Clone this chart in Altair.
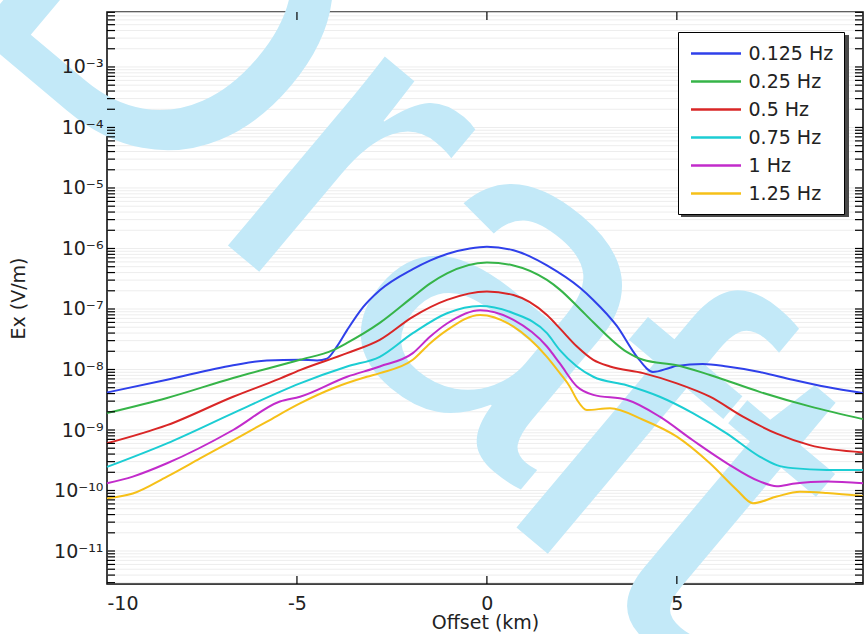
import altair as alt
import pandas as pd

# ---- data (x in km, y as log10 of Ex in V/m) ----
series_names = ["0.125 Hz", "0.25 Hz", "0.5 Hz", "0.75 Hz", "1 Hz", "1.25 Hz"]
series_colors = ["#2f40ea", "#36b448", "#d92626", "#1ccdd3", "#c22bcb", "#f6c018"]

x_0125 = [-10, -8.42, -6.68, -5.79, -4.92, -4.47, -4.21, -3.96, -3.68, -3.26, -2.82, -1.95, -1.5, -1.05, -0.45, 0, 0.70, 1.13, 1.58, 2.45, 2.80, 3.42, 3.95, 4.37, 4.82, 5.0, 5.68, 6.32, 7.18, 8.05, 8.95, 9.9]
y_0125 = [-8.38, -8.17, -7.93, -7.85, -7.84, -7.85, -7.82, -7.63, -7.35, -6.97, -6.69, -6.34, -6.20, -6.09, -6.00, -5.97, -6.03, -6.13, -6.28, -6.65, -6.85, -7.28, -7.79, -8.04, -7.97, -7.94, -7.91, -7.95, -8.04, -8.17, -8.29, -8.39]

x_025 = [-10, -8.42, -6.68, -4.92, -4.05, -3.68, -2.82, -1.95, -1.5, -1.05, 0, 0.70, 1.58, 1.92, 2.45, 2.80, 3.68, 4.11, 5.0, 5.87, 7.18, 8.50, 9.9]
y_025 = [-8.72, -8.47, -8.14, -7.84, -7.68, -7.56, -7.23, -6.80, -6.58, -6.41, -6.23, -6.28, -6.52, -6.68, -7.00, -7.22, -7.71, -7.84, -7.93, -8.09, -8.37, -8.61, -8.82]

x_05 = [-10, -8.42, -6.68, -5.45, -4.92, -3.68, -2.82, -1.95, -1.05, 0, 0.70, 1.58, 1.92, 2.37, 2.80, 3.24, 4.11, 5.0, 5.87, 6.74, 7.63, 8.50, 9.9]
y_05 = [-9.22, -8.92, -8.45, -8.15, -8.01, -7.73, -7.51, -7.13, -6.85, -6.71, -6.77, -7.10, -7.32, -7.62, -7.84, -7.95, -8.06, -8.23, -8.45, -8.78, -9.06, -9.25, -9.37]

x_075 = [-10, -8.42, -6.68, -5.45, -4.92, -3.68, -2.82, -1.95, -1.05, -0.18, 0.70, 1.58, 1.92, 2.37, 2.80, 3.68, 4.55, 5.42, 6.32, 7.18, 7.63, 8.05, 8.95, 9.9]
y_075 = [-9.61, -9.22, -8.72, -8.37, -8.23, -7.95, -7.79, -7.40, -7.07, -6.95, -7.07, -7.40, -7.68, -7.95, -8.12, -8.26, -8.45, -8.72, -9.06, -9.44, -9.58, -9.63, -9.66, -9.66]

x_1 = [-10, -9.32, -8.42, -6.68, -5.45, -4.92, -3.68, -2.82, -1.95, -1.5, -1.05, -0.18, 0.70, 1.58, 1.92, 2.37, 2.80, 3.68, 4.55, 5.42, 6.32, 7.18, 7.63, 8.05, 8.95, 9.9]
y_1 = [-9.88, -9.77, -9.55, -9.00, -8.53, -8.45, -8.12, -7.95, -7.73, -7.46, -7.24, -7.02, -7.18, -7.62, -7.90, -8.28, -8.42, -8.50, -8.78, -9.17, -9.55, -9.85, -9.93, -9.89, -9.85, -9.88]

x_125 = [-10, -9.32, -8.42, -7.55, -6.68, -5.79, -4.92, -4.05, -3.16, -2.82, -1.95, -1.5, -1.05, -0.18, 0.70, 1.58, 1.92, 2.18, 2.37, 2.63, 3.24, 4.11, 5.0, 5.87, 6.58, 7.0, 7.63, 8.24, 8.95, 9.9]
y_125 = [-10.13, -10.05, -9.77, -9.47, -9.17, -8.86, -8.56, -8.31, -8.12, -8.06, -7.84, -7.57, -7.35, -7.10, -7.29, -7.79, -8.06, -8.28, -8.50, -8.67, -8.64, -8.83, -9.11, -9.55, -9.99, -10.21, -10.10, -10.02, -10.04, -10.09]

x_ticks = [-10, -5, 0, 5]
y_decades = [-12, -11, -10, -9, -8, -7, -6, -5, -4, -3]
y_minor_mult = [1, 2, 3, 4, 5, 6, 7, 8, 9]
x_domain = [-10, 9.9]
y_domain = [2.85e-12, 8.1e-3]
watermark_parts = ["Dra", "ft"]

# ---- build tables ----
rows = []
for name, xs_, ys_ in zip(series_names,
                          [x_0125, x_025, x_05, x_075, x_1, x_125],
                          [y_0125, y_025, y_05, y_075, y_1, y_125]):
    for xv, yv in zip(xs_, ys_):
        rows.append({"series": name, "offset": xv, "Ex": 10 ** yv})
df = pd.DataFrame(rows)

tick_vals = [m * 10 ** d for d in y_decades for m in y_minor_mult
             if y_domain[0] <= m * 10 ** d <= y_domain[1]]
major_exps = [d for d in y_decades if y_domain[0] <= 10 ** d <= y_domain[1]]
major_vals = [10 ** d for d in major_exps]
ytick_df = pd.DataFrame({"Ex": tick_vals})
xtick_df = pd.DataFrame({"offset": x_ticks[1:]})

W, H = 756, 572
FONT = "DejaVu Sans"
FS = 19

xs = alt.Scale(domain=x_domain, nice=False, zero=False)
ys = alt.Scale(type="log", domain=y_domain, nice=False)

SUP = {"0": "⁰", "1": "¹", "2": "²", "3": "³", "4": "⁴", "5": "⁵",
       "6": "⁶", "7": "⁷", "8": "⁸", "9": "⁹", "-": "⁻"}


def sup_label(d):
    return "10" + "".join(SUP[c] for c in str(d))


label_expr = ""
for d in major_exps:
    label_expr += f"round(log(datum.value)/LN10) == {d} ? '{sup_label(d)}' : "
label_expr += "''"

x_axis = alt.Axis(values=x_ticks, ticks=False, domain=False, grid=False,
                  labelExpr="datum.value < 0 ? '-' + abs(datum.value) : '' + datum.value",
                  labelFontSize=FS, labelFont=FONT, labelColor="#222",
                  labelPadding=10, title="Offset (km)", titleFont=FONT,
                  titleFontSize=FS, titleFontWeight="normal", titleColor="#222",
                  titlePadding=0, zindex=1)
y_axis = alt.Axis(values=major_vals, labelExpr=label_expr, ticks=False,
                  domain=False, grid=False, labelFontSize=FS,
                  labelFont=FONT, labelColor="#222", labelPadding=4,
                  title="Ex (V/m)", titleFont=FONT, titleFontSize=FS,
                  titleFontWeight="normal", titleColor="#222", titlePadding=25,
                  zindex=1)

X = lambda: alt.X("offset:Q", scale=xs, axis=x_axis)
Y = lambda: alt.Y("Ex:Q", scale=ys, axis=y_axis)

grid = alt.Chart(ytick_df).mark_rule(color="#ededed", strokeWidth=1).encode(
    y=Y(), x=alt.value(0), x2=alt.value(W),
)

wm_style = dict(font="Liberation Sans", fontSize=465, angle=40, align="left",
                baseline="alphabetic", color="#c3e9f8")
wm1 = alt.Chart(pd.DataFrame({"t": [watermark_parts[0]]})).mark_text(**wm_style).encode(
    text="t:N", x=alt.value(-54 - 107), y=alt.value(9 - 12))
wm2 = alt.Chart(pd.DataFrame({"t": [watermark_parts[1]]})).mark_text(**wm_style).encode(
    text="t:N", x=alt.value(485 - 107), y=alt.value(501 - 12))

# soft drop shadow behind the legend box
legend_shadow = alt.Chart(pd.DataFrame({"s": [0]})).mark_rect(color="#4a4a4a").encode(
    x=alt.value(681 - 107), x2=alt.value(849 - 107),
    y=alt.value(35 - 12), y2=alt.value(217 - 12))

lines = alt.Chart(df).mark_line(strokeWidth=2, interpolate="monotone").encode(
    x=X(), y=Y(),
    color=alt.Color("series:N",
                    scale=alt.Scale(domain=series_names, range=series_colors),
                    legend=alt.Legend(title=None, orient="none", legendX=571, legendY=20,
                                      symbolType="M-2.5,0H2.5", symbolSize=400,
                                      symbolStrokeWidth=2.5, symbolOffset=16.5,
                                      labelFontSize=FS, labelFont=FONT,
                                      labelColor="#222", labelOffset=21, padding=10,
                                      rowPadding=6, fillColor="white",
                                      strokeColor="black", cornerRadius=0)),
)

left_ticks = alt.Chart(ytick_df).mark_rule(color="black", strokeWidth=1.2).encode(
    y=Y(), x=alt.value(0), x2=alt.value(8))
right_ticks = alt.Chart(ytick_df).mark_rule(color="black", strokeWidth=1.2).encode(
    y=Y(), x=alt.value(W - 8), x2=alt.value(W))
top_ticks = alt.Chart(xtick_df).mark_rule(color="black", strokeWidth=1.2).encode(
    x=X(), y=alt.value(0), y2=alt.value(8))
bottom_ticks = alt.Chart(xtick_df).mark_rule(color="black", strokeWidth=1.2).encode(
    x=X(), y=alt.value(H - 8), y2=alt.value(H))

chart = alt.layer(grid, wm1, wm2, lines, left_ticks, right_ticks, top_ticks,
                  bottom_ticks, legend_shadow).properties(
    width=W, height=H,
    autosize=alt.AutoSizeParams(type="none"),
    padding={"left": 107, "top": 12, "right": 1, "bottom": 50},
    background="white",
).configure_view(stroke="black", strokeWidth=1.5)

chart.save("out.html", embed_options={"renderer": "svg", "actions": False})
